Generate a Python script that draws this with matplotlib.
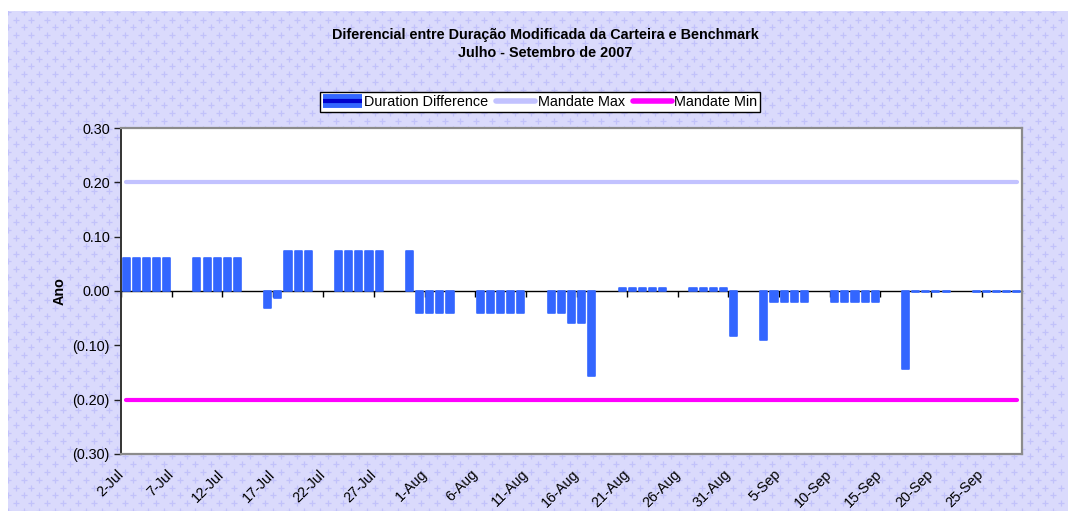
import numpy as np
import pandas as pd
import matplotlib
matplotlib.use("Agg")
import matplotlib.pyplot as plt
import matplotlib.dates as mdates
from matplotlib.lines import Line2D
from matplotlib.legend_handler import HandlerTuple
from matplotlib.ticker import FuncFormatter

plt.rcParams['font.family'] = ['Liberation Sans', 'DejaVu Sans']

# ---------------- data ----------------
title_lines = ["Diferencial entre Duração Modificada da Carteira e Benchmark",
               "Julho - Setembro de 2007"]
start_date = "2007-07-02"
end_date = "2007-09-28"
dates = pd.bdate_range(start_date, end_date)   # trading days (Mon-Fri)

duration_diff = [
    0.061, 0.061, 0.061, 0.061, 0.061,          # 2-6 Jul
    0.061, 0.061, 0.061, 0.061, 0.061,          # 9-13 Jul
    -0.032, -0.012, 0.074, 0.074, 0.074,        # 16-20 Jul
    0.074, 0.074, 0.074, 0.074, 0.074,          # 23-27 Jul
    0.074, -0.041, -0.041, -0.041, -0.041,      # 30 Jul-3 Aug
    -0.041, -0.041, -0.041, -0.041, -0.041,     # 6-10 Aug
    -0.041, -0.041, -0.058, -0.058, -0.156,     # 13-17 Aug
    0.006, 0.006, 0.006, 0.006, 0.006,          # 20-24 Aug
    0.006, 0.006, 0.006, 0.006, -0.083,         # 27-31 Aug
    -0.091, -0.020, -0.020, -0.020, -0.020,     # 3-7 Sep
    -0.020, -0.020, -0.020, -0.020, -0.020,     # 10-14 Sep
    -0.144, -0.002, -0.002, -0.002, -0.002,     # 17-21 Sep
    -0.002, -0.002, -0.002, -0.002, -0.002,     # 24-28 Sep
]
mandate_max = 0.20
mandate_min = -0.20
y_ticks = [0.30, 0.20, 0.10, 0.00, -0.10, -0.20, -0.30]
tick_dates = pd.date_range("2007-07-02", "2007-09-25", freq="5D")
tick_labels = ["2-Jul", "7-Jul", "12-Jul", "17-Jul", "22-Jul", "27-Jul", "1-Aug",
               "6-Aug", "11-Aug", "16-Aug", "21-Aug", "26-Aug", "31-Aug", "5-Sep",
               "10-Sep", "15-Sep", "20-Sep", "25-Sep"]

series_names = ["Duration Difference", "Mandate Max", "Mandate Min"]
bar_color = "#3366FF"
max_color = "#C2C2FF"
min_color = "#FF00FF"
FS = 10.4

# ---------------- figure ----------------
W, H = 1068, 511
fig = plt.figure(figsize=(W / 100, H / 100), dpi=100)
fig.patch.set_facecolor("white")

# patterned lavender chart-area background
bg = fig.add_axes([8 / W, 0, 1 - 8 / W, 1 - 11 / H], zorder=-5)
bg.set_facecolor("#DADAFC")
for s in bg.spines.values():
    s.set_visible(False)
bg.set_xticks([]); bg.set_yticks([])
bg.set_xlim(0, 1); bg.set_ylim(0, 1)
gx = np.arange(0.0, 1.0, 15.6 / (W - 8))
gy = np.arange(0.0, 1.0, 15.6 / (H - 11))
GX, GY = np.meshgrid(gx, gy)
bg.scatter(GX.ravel(), GY.ravel(), marker="+", s=14, linewidths=0.9, color="#C2C2FA")
bg.scatter(GX.ravel() + 7.8 / (W - 8), GY.ravel() + 7.8 / (H - 11), marker="+", s=14,
           linewidths=0.9, color="#C2C2FA")

# main plot area
ax = fig.add_axes([121 / W, 1 - 454 / H, (1022 - 121) / W, (454 - 128) / H], zorder=1)
ax.set_facecolor("white")

xnum = mdates.date2num(dates.to_pydatetime()) + 0.5
ax.bar(xnum, duration_diff, width=0.70, color=bar_color, edgecolor=bar_color,
       linewidth=1.2, joinstyle="round", zorder=3)
ax.plot(xnum, np.full(len(xnum), mandate_max), color=max_color, lw=3.0,
        solid_capstyle="round", zorder=4)
ax.plot(xnum, np.full(len(xnum), mandate_min), color=min_color, lw=3.0,
        solid_capstyle="round", zorder=4)

x0 = mdates.date2num(pd.Timestamp(start_date).to_pydatetime())
x1 = mdates.date2num(pd.Timestamp(end_date).to_pydatetime()) + 1
ax.set_xlim(x0, x1)
ax.set_ylim(-0.30, 0.30)

def yfmt(v, pos):
    if abs(v) < 1e-9:
        return "0.00"
    return f"{v:.2f}" if v > 0 else f"({-v:.2f})"

ax.set_yticks(y_ticks)
ax.yaxis.set_major_formatter(FuncFormatter(yfmt))
ax.tick_params(axis="y", direction="out", length=5, width=1, labelsize=FS, pad=3,
               color="#222222")
ax.set_ylabel("Ano", fontsize=FS, fontweight="bold", labelpad=4)

tnum = mdates.date2num(tick_dates.to_pydatetime())
ax.set_xticks(tnum)
ax.set_xticklabels(tick_labels, rotation=45, ha="right", va="center",
                   rotation_mode="anchor", fontsize=FS)
ax.tick_params(axis="x", length=0, pad=13)

for side in ["top", "right", "bottom"]:
    ax.spines[side].set_color("#8C8C8C")
    ax.spines[side].set_linewidth(1.6)
ax.spines["left"].set_color("#333333")
ax.spines["left"].set_linewidth(1.4)

# zero axis line with day ticks
sec = ax.secondary_xaxis(0.5)
sec.set_alignment("bottom")
sec.set_xticks(tnum)
sec.tick_params(axis="x", direction="out", length=4, width=1, labelbottom=False,
                labeltop=False, color="black")
sec.spines["bottom"].set_color("black")
sec.spines["bottom"].set_linewidth(1.0)
sec.spines["top"].set_visible(False)

# title
fig.text(545 / W, 1 - 35 / H, title_lines[0], ha="center", va="center",
         fontsize=FS, fontweight="bold")
fig.text(545 / W, 1 - 53 / H, title_lines[1], ha="center", va="center",
         fontsize=FS, fontweight="bold")

# legend
h_bar = (Line2D([], [], color=bar_color, lw=10, solid_capstyle="butt"),
         Line2D([], [], color="#0000CC", lw=3, solid_capstyle="butt"))
h_max = Line2D([], [], color=max_color, lw=4, solid_capstyle="round")
h_min = Line2D([], [], color=min_color, lw=4, solid_capstyle="round")
leg = fig.legend([h_bar, h_max, h_min], series_names, loc="center",
                 bbox_to_anchor=(540 / W, 1 - 102 / H), ncol=3, fontsize=FS,
                 frameon=True, fancybox=False, handlelength=2.7, handletextpad=0.15,
                 columnspacing=0.55, borderpad=0.2, borderaxespad=0,
                 handler_map={tuple: HandlerTuple(ndivide=1, pad=0)})
leg.get_frame().set_edgecolor("black")
leg.get_frame().set_linewidth(1.0)
leg.get_frame().set_facecolor("white")
leg.get_frame().set_alpha(1.0)

fig.savefig("out.png", dpi=100)
